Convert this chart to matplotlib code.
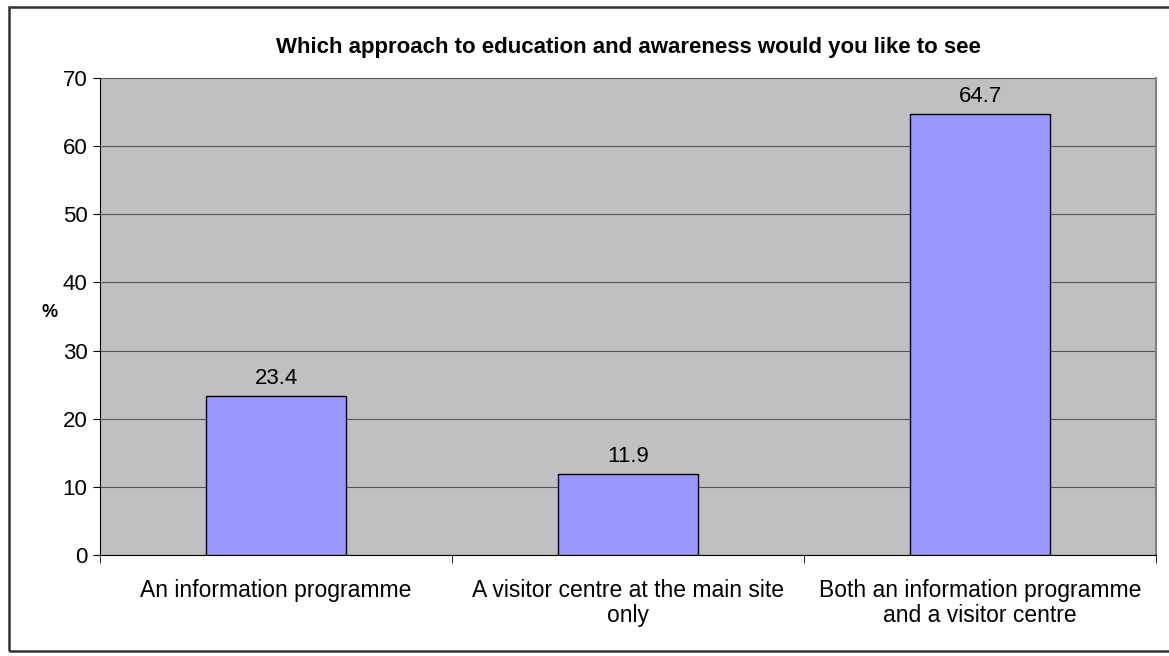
import matplotlib.pyplot as plt
from matplotlib.patches import Rectangle

plt.rcParams['font.family'] = ['Liberation Sans', 'DejaVu Sans']

# Dados do gráfico
categorias = ['An information programme',
              'A visitor centre at the main site\nonly',
              'Both an information programme\nand a visitor centre']
valores = [23.4, 11.9, 64.7]
ticks_y = [0, 10, 20, 30, 40, 50, 60, 70]

fig = plt.figure(figsize=(11.69, 6.56), dpi=100)
ax = fig.add_axes([100 / 1169, 1 - 555 / 656, 1056 / 1169, 477 / 656])

# Moldura externa do gráfico (borda direita fora da imagem)
fig.patches.append(Rectangle((9 / 1169, 1 - 651 / 656), 1170 / 1169, 644 / 656,
                             transform=fig.transFigure, fill=False,
                             edgecolor='#333333', linewidth=1.8))

ax.set_facecolor('#C0C0C0')
pos = list(range(len(categorias)))
ax.bar(pos, valores, width=0.4, color='#9999FF', edgecolor='black',
       linewidth=1, zorder=3)

for x, v in zip(pos, valores):
    ax.text(x, v + 1.0, f'{v:.1f}', ha='center', va='bottom', fontsize=16)

ax.set_xlim(-0.5, len(categorias) - 0.5)
ax.set_ylim(0, 70)
ax.set_yticks(ticks_y)
ax.tick_params(axis='y', labelsize=16, length=5, direction='out', pad=4)
ax.yaxis.grid(True, color='#555555', linewidth=0.8, zorder=1)

# Rótulos das categorias sem ticks; ticks nas divisões
ax.set_xticks(pos)
ax.set_xticklabels(categorias, fontsize=16.5, linespacing=1.12)
ax.tick_params(axis='x', length=0, pad=17)
ax.set_xticks([-0.5, 0.5, 1.5, 2.5], minor=True)
ax.tick_params(axis='x', which='minor', length=6, direction='out')

ax.spines['top'].set_visible(False)
ax.spines['right'].set_color('#808080')
ax.spines['right'].set_linewidth(1.5)
ax.spines['left'].set_color('black')
ax.spines['bottom'].set_color('black')

fig.text(50 / 1169, 1 - 313 / 656, '%', fontsize=13, fontweight='bold',
         ha='center', va='center')
fig.text(0.5 * (100 + 1156) / 1169, 1 - 47 / 656,
         'Which approach to education and awareness would you like to see',
         ha='center', va='center', fontsize=16, fontweight='bold')

plt.savefig('out.png', dpi=100)
